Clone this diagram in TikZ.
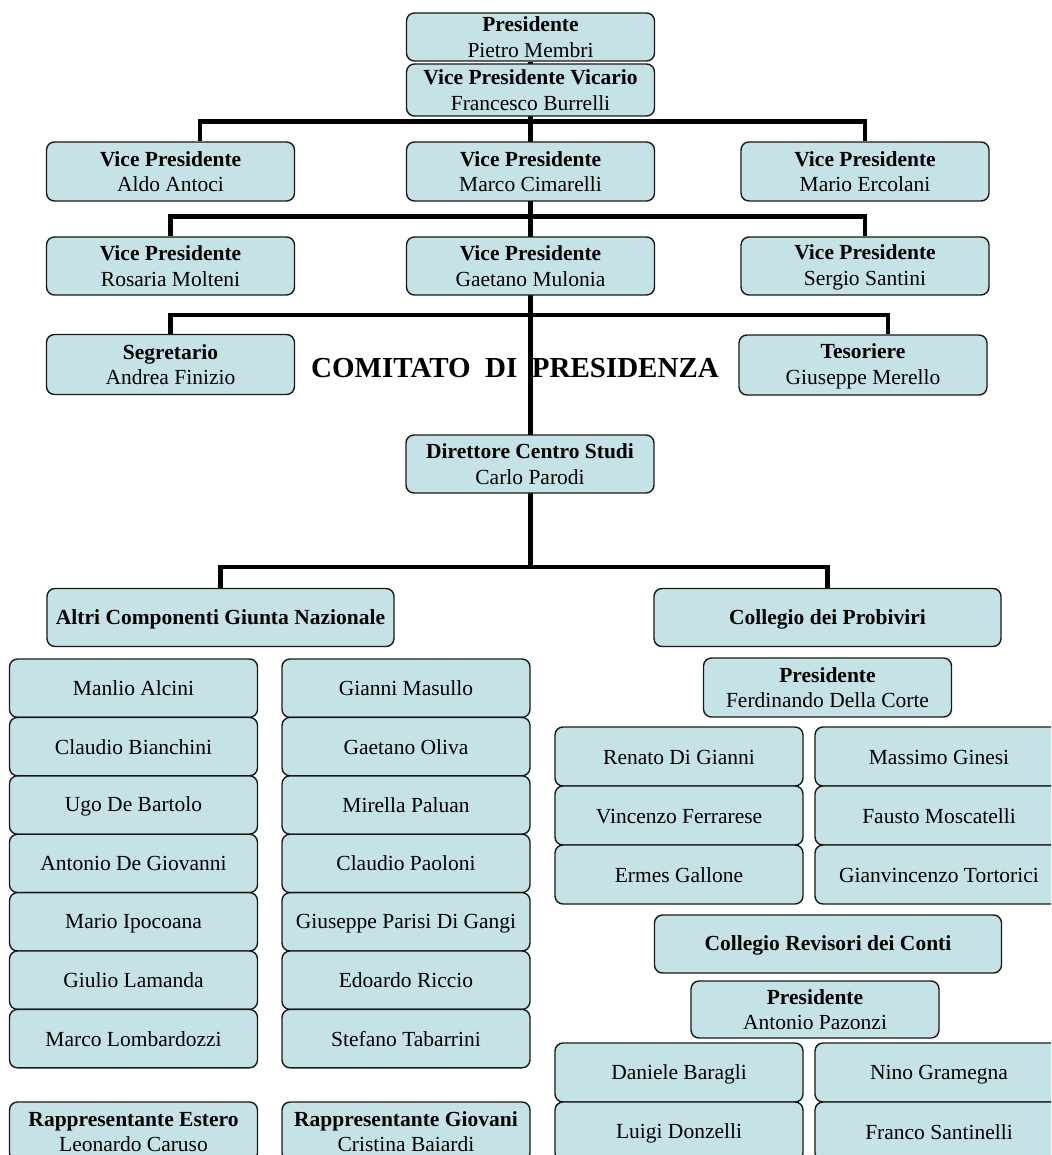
\documentclass[tikz,border=0pt]{standalone}
\usepackage{fontspec}
\setmainfont{Liberation Serif}
\usepackage{xcolor}
\usetikzlibrary{positioning,backgrounds}

\definecolor{boxfill}{RGB}{197,226,230}
\definecolor{boxline}{RGB}{25,25,25}
\newcommand{\bxstrut}{\rule[-3pt]{0pt}{21pt}}
\newcommand{\role}[2]{\bxstrut\textbf{#1}\\#2\bxstrut}

\tikzset{
  card/.style={draw=boxline, line width=1.4pt, fill=boxfill, rounded corners=8pt,
    minimum width=248pt, minimum height=59pt, inner sep=0pt, align=center,
    font=\fontsize{21.5}{25.5}\selectfont},
  wide/.style={card, minimum width=347pt},
  link/.style={line width=4.5pt, black}
}

\begin{document}
\begin{tikzpicture}[x=1pt, y=-1pt, >=latex]
    \useasboundingbox (0,0) rectangle (1051,1155);
    \clip (0,0) rectangle (1051,1155);

    % comitato di presidenza
    \node[card, minimum height=48pt] (pres) at (530.5,37) {\role{Presidente}{Pietro Membri}};
    \node[card, minimum height=52pt] (vicario) at (530.5,90) {\role{Vice Presidente Vicario}{Francesco Burrelli}};
    \node[card] (vp1) at (170.5,171.5) {\role{Vice Presidente}{Aldo Antoci}};
    \node[card] (vp2) at (530.5,171.5) {\role{Vice Presidente}{Marco Cimarelli}};
    \node[card] (vp3) at (865,171.5) {\role{Vice Presidente}{Mario Ercolani}};
    \node[card, minimum height=58pt] (vp4) at (170.5,266) {\role{Vice Presidente}{Rosaria Molteni}};
    \node[card, minimum height=58pt] (vp5) at (530.5,266) {\role{Vice Presidente}{Gaetano Mulonia}};
    \node[card, minimum height=58pt] (vp6) at (865,266) {\role{Vice Presidente}{Sergio Santini}};
    \node[card, minimum height=60pt] (segr) at (170.5,364.5) {\role{Segretario}{Andrea Finizio}};
    \node[card, minimum height=60pt] (tes) at (863,365) {\role{Tesoriere}{Giuseppe Merello}};
    \node[font=\fontsize{29}{34}\selectfont\bfseries, anchor=base] (comitato) at (515,377) {COMITATO\ \ DI\ \ PRESIDENZA};
    \node[card, minimum height=58pt] (dir) at (530,464) {\role{Direttore Centro Studi}{Carlo Parodi}};

    % giunta nazionale
    \node[wide, minimum height=58pt] (altri) at (220.5,617.5) {\bxstrut\textbf{Altri Componenti Giunta Nazionale}};
    \foreach \nm [count=\i from 0] in {Manlio Alcini, Claudio Bianchini, Ugo De Bartolo,
        Antonio De Giovanni, Mario Ipocoana, Giulio Lamanda, Marco Lombardozzi}
        \node[card, minimum height=58.4pt] (gl\i) at (133.5, {688.2+58.4*\i}) {\bxstrut\nm};
    \foreach \nm [count=\i from 0] in {Gianni Masullo, Gaetano Oliva, Mirella Paluan,
        Claudio Paoloni, Giuseppe Parisi Di Gangi, Edoardo Riccio, Stefano Tabarrini}
        \node[card, minimum height=58.4pt] (gr\i) at (406, {688.2+58.4*\i}) {\bxstrut\nm};
    \node[card] (estero) at (133.5,1131.5) {\role{Rappresentante Estero}{Leonardo Caruso}};
    \node[card] (giovani) at (406,1131.5) {\role{Rappresentante Giovani}{Cristina Baiardi}};

    % probiviri
    \node[wide, minimum height=58pt] (prob) at (827.5,617.5) {\bxstrut\textbf{Collegio dei Probiviri}};
    \node[card] (probpres) at (827.5,687.5) {\role{Presidente}{Ferdinando Della Corte}};
    \foreach \nm [count=\i from 0] in {Renato Di Gianni, Vincenzo Ferrarese, Ermes Gallone}
        \node[card] (pl\i) at (679, {756.5+59*\i}) {\bxstrut\nm};
    \foreach \nm [count=\i from 0] in {Massimo Ginesi, Fausto Moscatelli, Gianvincenzo Tortorici}
        \node[card] (pr\i) at (939, {756.5+59*\i}) {\bxstrut\nm};

    % revisori dei conti
    \node[wide, minimum height=58pt] (rev) at (828,944) {\bxstrut\textbf{Collegio Revisori dei Conti}};
    \node[card, minimum height=57pt] (revpres) at (815,1009.5) {\role{Presidente}{Antonio Pazonzi}};
    \foreach \nm [count=\i from 0] in {Daniele Baragli, Luigi Donzelli}
        \node[card] (rl\i) at (679, {1072.5+59*\i}) {\bxstrut\nm};
    \foreach \nm [count=\i from 0] in {Nino Gramegna, Franco Santinelli}
        \node[card] (rr\i) at (939, {1072.5+59*\i}) {\bxstrut\nm};

    \coordinate (fork) at (530.5,567);
    \begin{scope}[on background layer]
        \draw[link] (pres.south) -- (fork);
        \draw[link] ([xshift=29.5pt]vp1.north) -- ++(0,-20) -| (vp3.north);
        \draw[link] (vp4.north) -- ++(0,-20) -| (vp6.north);
        \draw[link] (segr.north) -- ++(0,-19) -| ([xshift=25pt]tes.north);
        \draw[link] (altri.north) -- ++(0,-21) -| (prob.north);
    \end{scope}
\end{tikzpicture}
\end{document}
